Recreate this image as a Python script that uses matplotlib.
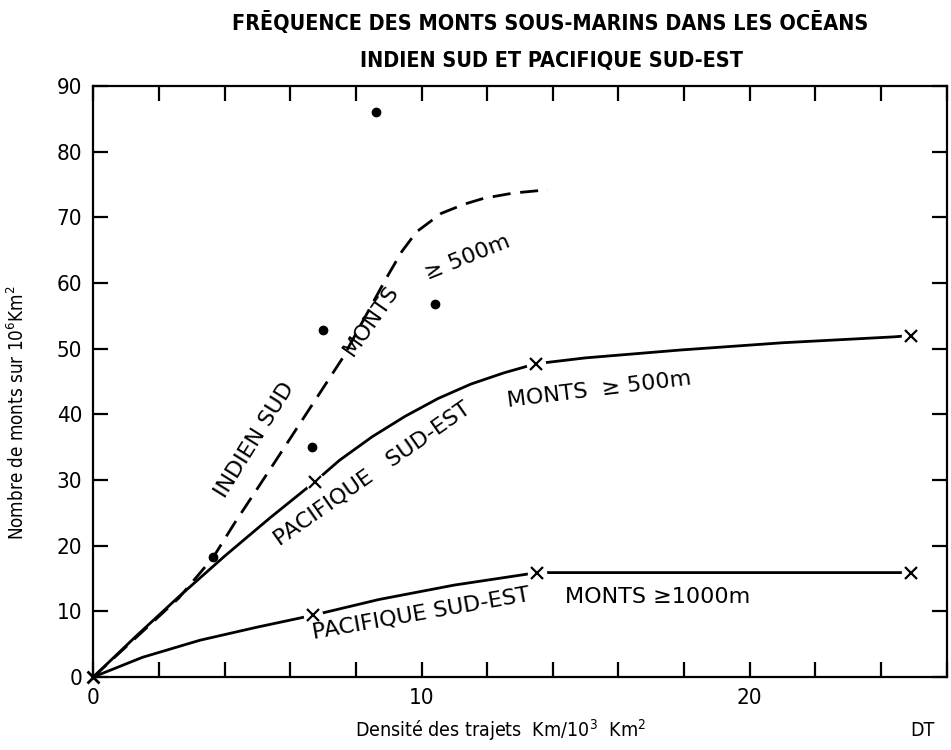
import matplotlib
matplotlib.use("Agg")
import matplotlib.pyplot as plt

plt.rcParams['font.family'] = ['DejaVu Sans']
plt.rcParams['font.stretch'] = 'condensed'

# ---- data ----
indien_dots_x = [3.65, 6.65, 7.0, 8.6, 10.4]
indien_dots_y = [18.2, 35.0, 52.8, 86.0, 56.8]

indien_curve_x = [0, 1.3, 2.6, 3.65, 4.3, 5.5, 6.7, 7.6, 8.3, 8.9, 9.4, 9.85, 10.6, 11.3, 11.9, 12.8, 13.85]
indien_curve_y = [0, 6.0, 12.0, 18.2, 23.4, 32.5, 41.7, 48.6, 55.0, 60.5, 64.8, 67.8, 70.6, 72.0, 72.9, 73.7, 74.2]

pac500_curve_x = [0, 1.3, 2.6, 4.0, 5.4, 6.74, 7.5, 8.5, 9.5, 10.5, 11.5, 12.5, 13.48, 15.0, 17.9, 21.0, 24.4, 24.9]
pac500_curve_y = [0, 6.2, 12.2, 18.4, 24.3, 29.7, 33.0, 36.6, 39.7, 42.4, 44.6, 46.3, 47.7, 48.6, 49.8, 50.9, 51.8, 52.0]
pac500_marks_x = [6.74, 13.48, 24.9]
pac500_marks_y = [29.7, 47.7, 52.0]

pac1000_curve_x = [0, 1.5, 3.25, 5.0, 6.69, 8.7, 11.0, 13.53, 18.0, 24.9]
pac1000_curve_y = [0, 3.0, 5.6, 7.6, 9.4, 11.8, 14.0, 15.9, 15.9, 15.9]
pac1000_marks_x = [6.69, 13.53, 24.9]
pac1000_marks_y = [9.4, 15.9, 15.9]

origin_x = [0]
origin_y = [0]

xticks = list(range(0, 27, 2))
xtick_labels = ['0' if t == 0 else ('10' if t == 10 else ('20' if t == 20 else '')) for t in xticks]
yticks = list(range(0, 91, 10))
ytick_labels = [str(t) for t in yticks]

# ---- figure ----
W, H = 951, 750
fig = plt.figure(figsize=(W / 100, H / 100), dpi=100)
ax = fig.add_axes([93.3 / W, 1 - 677 / H, (946.7 - 93.3) / W, (677 - 86) / H])
ax.set_xlim(0, 26)
ax.set_ylim(0, 90)

lw = 2.0
ax.plot(indien_curve_x, indien_curve_y, color='black', lw=lw, ls=(0, (6.5, 3.5)), zorder=2)
ax.plot(pac500_curve_x, pac500_curve_y, color='black', lw=lw, zorder=2)
ax.plot(pac1000_curve_x, pac1000_curve_y, color='black', lw=lw, zorder=2)

ax.plot(indien_dots_x, indien_dots_y, 'o', color='black', ms=6, zorder=4)

for mx, my in ((pac500_marks_x, pac500_marks_y), (pac1000_marks_x, pac1000_marks_y)):
    ax.plot(mx, my, 'o', color='white', ms=13, zorder=3)
    ax.plot(mx, my, 'x', color='black', ms=8, mew=1.6, zorder=4)
ax.plot(origin_x, origin_y, 'x', color='black', ms=9, mew=2, zorder=4, clip_on=False)

ax.set_xticks(xticks)
ax.set_xticklabels(xtick_labels)
ax.set_yticks(yticks)
ax.set_yticklabels(ytick_labels)
ax.tick_params(axis='both', direction='in', length=11, width=1.6, labelsize=16,
               top=True, right=True, pad=8)
for s in ax.spines.values():
    s.set_linewidth(1.6)

# ---- annotations ----
tk = dict(color='black', fontsize=16, ha='center', va='center', fontstretch='normal')
ax.text(4.92, 36.1, 'INDIEN SUD', rotation=58, **tk)
ax.text(8.48, 54.3, 'MONTS', rotation=55, **tk)
ax.text(11.4, 63.8, '≥ 500m', rotation=22, **tk)
ax.text(8.5, 31.0, 'PACIFIQUE   SUD-EST', rotation=35, **tk)
ax.text(15.4, 43.8, 'MONTS  ≥ 500m', rotation=7, **tk)
ax.text(10.0, 9.6, 'PACIFIQUE SUD-EST', rotation=10, **tk)
ax.text(17.2, 12.2, 'MONTS ≥1000m', rotation=0, **tk)

fig.text(550 / W, 1 - 23 / H, 'FRĒQUENCE DES MONTS SOUS-MARINS DANS LES OCĒANS',
         ha='center', va='center', fontsize=15.5, fontweight='bold')
fig.text(552 / W, 1 - 61 / H, 'INDIEN SUD ET PACIFIQUE SUD-EST',
         ha='center', va='center', fontsize=15.5, fontweight='bold')

fig.text(500 / W, 1 - 730 / H, 'Densité des trajets  Km/10$^3$  Km$^2$',
         ha='center', va='center', fontsize=14)
fig.text(922 / W, 1 - 730 / H, 'DT', ha='center', va='center', fontsize=14)
fig.text(17 / W, 1 - 413 / H, 'Nombre de monts sur 10$^6$Km$^2$',
         ha='center', va='center', fontsize=13.5, rotation=90)

fig.savefig('out.png', dpi=100)
